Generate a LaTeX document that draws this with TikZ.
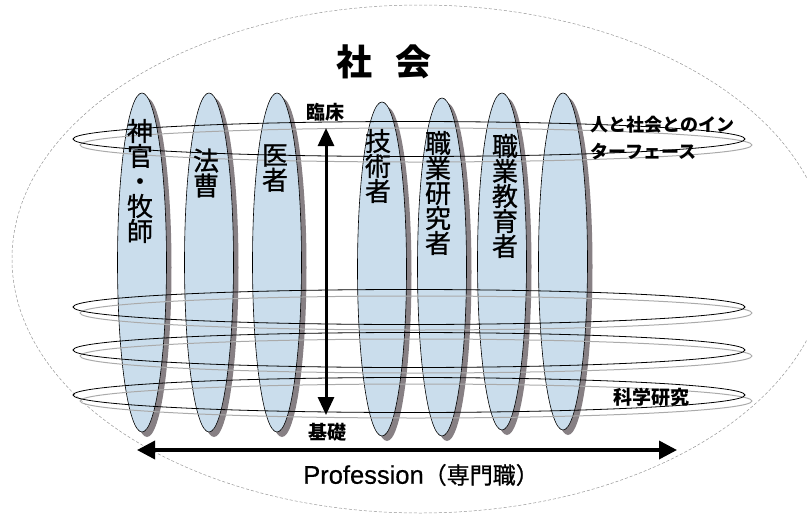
\documentclass[tikz,border=0pt]{standalone}
\usepackage{fontspec}
\newfontfamily\jp{Noto Sans CJK JP}
\newfontfamily\jpm{Noto Sans CJK JP}[FakeBold=0.9]
\newfontfamily\lat{Liberation Sans}[FakeBold=0.5]
\usetikzlibrary{shapes.geometric,shadows,arrows.meta}
\definecolor{pillarblue}{RGB}{202,221,236}
\definecolor{shadowgray}{RGB}{135,128,132}
\definecolor{ringgray}{RGB}{170,170,170}
\definecolor{outergray}{RGB}{150,150,150}
\begin{document}
\begin{tikzpicture}[x=1pt,y=-1pt,
  pillar/.style={ellipse, draw=black, line width=0.6pt, fill=pillarblue,
    minimum width=49pt, minimum height=339pt, inner sep=0pt,
    drop shadow={shadow xshift=5pt, shadow yshift=-5pt, fill=shadowgray, opacity=1}},
  ringb/.style={ellipse, draw=black, line width=0.8pt, minimum width=672pt, minimum height=35pt, inner sep=0pt},
  ringg/.style={ellipse, draw=ringgray, line width=1pt, minimum width=672pt, minimum height=34pt, inner sep=0pt},
  outer/.style={ellipse, draw=outergray, line width=0.5pt, dash pattern=on 3pt off 2pt, minimum width=816pt, minimum height=508pt, inner sep=0pt},
  vtext/.style={align=center, inner sep=0pt, font=\jpm\fontsize{26}{25}\selectfont},
  lbl/.style={inner sep=0pt, font=\jp\bfseries\fontsize{19}{19}\selectfont},
  dblarrow/.style={line width=3pt, {Triangle[length=18pt,width=16pt]}-{Triangle[length=18pt,width=16pt]}}
]
\useasboundingbox (0,0) rectangle (807,515);
\begin{scope}
\clip (0,0) rectangle (807,515);
\node[outer] (outer) at (420,259) {};
\end{scope}

% pillars
\node[pillar] (p1) at (142,262.5) {};
\node[pillar] (p2) at (209,262.5) {};
\node[pillar] (p3) at (277,262.5) {};
\node[pillar, minimum height=334pt] (p4) at (382,269) {};
\node[pillar, minimum height=338pt] (p5) at (442,267) {};
\node[pillar, minimum height=337pt] (p6) at (502,261.5) {};
\node[pillar, minimum height=337pt] (p7) at (563,261.5) {};

% rings
\node[ringg] (r1g) at (416,145) {};
\node[ringb] (r1b) at (409,139) {};
\node[ringg] (r2g) at (416,313) {};
\node[ringb] (r2b) at (409,307) {};
\node[ringg] (r3g) at (416,356) {};
\node[ringb] (r3b) at (409,350) {};
\node[ringg] (r4g) at (416,401) {};
\node[ringb] (r4b) at (409,395) {};

% pillar texts
\node[vtext] (t1) at (140,181) {神\\官\\・\\牧\\師};
\node[vtext] (t2) at (206,173) {法\\曹};
\node[vtext] (t3) at (275,168) {医\\者};
\node[vtext] (t4) at (378,166) {技\\術\\者};
\node[vtext] (t5) at (438,193) {職\\業\\研\\究\\者};
\node[vtext] (t6) at (505,196) {職\\業\\教\\育\\者};

% title and labels
\node[inner sep=0pt, font=\jp\bfseries\fontsize{36}{36}\selectfont] (title) at (384,62) {社\hspace{24pt}会};
\node[lbl] (clin) at (325,112) {臨床};
\node[lbl] (base) at (327,432) {基礎};
\node[lbl, font=\jp\bfseries\fontsize{18}{27}\selectfont, align=left, anchor=west] (iface) at (590,138.5) {人と社会とのイン\\ターフェース};
\node[lbl] (sci) at (651,397) {科学研究};
\node[inner sep=0pt] (prof) at (421,475) {{\lat\fontsize{25.5}{25.5}\selectfont Profession}{\jpm\fontsize{23}{23}\selectfont （専門職）}};

% arrows
\coordinate (vtop) at (326,128);
\coordinate (vbot) at (326,415);
\draw[dblarrow] (vtop) -- (vbot);
\coordinate (hl) at (137,450);
\coordinate (hr) at (677,450);
\draw[dblarrow, line width=3.5pt, {Triangle[length=18pt,width=18pt]}-{Triangle[length=18pt,width=18pt]}] (hl) -- (hr);
\end{tikzpicture}
\end{document}
